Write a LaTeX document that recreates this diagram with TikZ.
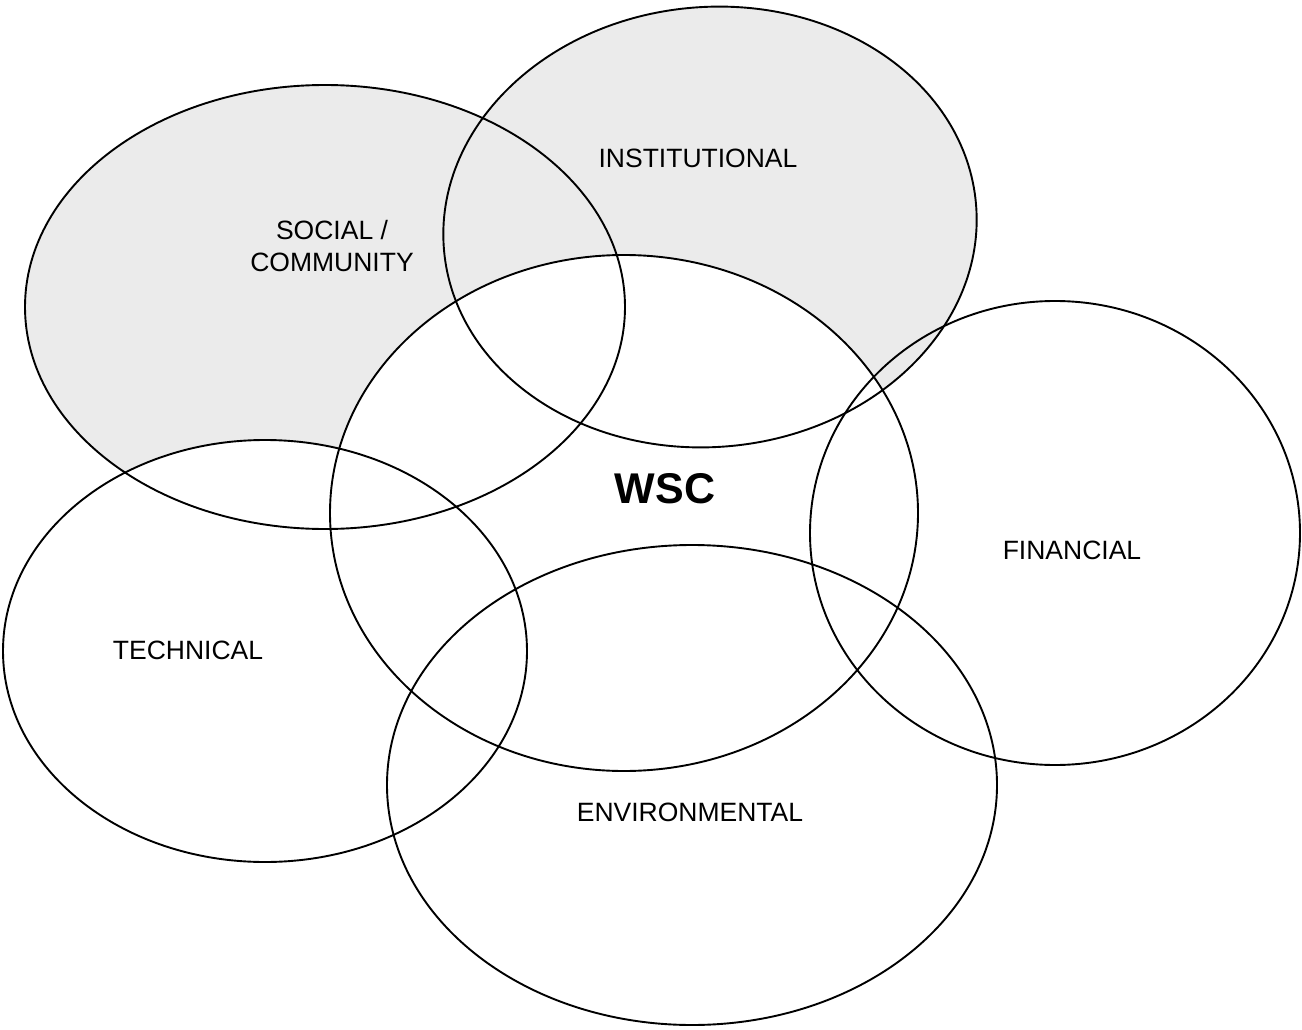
\documentclass[tikz,border=0pt]{standalone}
\usepackage{fontspec}
\setmainfont{Liberation Sans}
\begin{document}
\begin{tikzpicture}[x=1pt,y=-1pt,
  ring/.style={draw=black,line width=1.9pt},
  shade/.style={fill=black!8},
  lab/.style={font=\fontsize{26.5}{32}\selectfont,align=center,inner sep=0pt},
  big/.style={font=\fontsize{43}{47}\selectfont\bfseries,inner sep=0pt}]
\useasboundingbox (0,0) rectangle (1302,1030);
% shaded regions (stippled outside the central ellipse)
\fill[shade] (325,307) ellipse [x radius=300,y radius=222];
\fill[shade,rotate around={5:(710,227)}] (710,227) ellipse [x radius=267,y radius=220];
\fill[white] (624,513) ellipse [x radius=294,y radius=258];
\fill[white] (265,651) ellipse [x radius=262,y radius=211];
% outlines
\draw[ring] (325,307) ellipse [x radius=300,y radius=222];
\draw[ring,rotate around={5:(710,227)}] (710,227) ellipse [x radius=267,y radius=220];
\draw[ring] (624,513) ellipse [x radius=294,y radius=258];
\draw[ring] (1055,533) ellipse [x radius=245,y radius=232];
\draw[ring] (265,651) ellipse [x radius=262,y radius=211];
\draw[ring] (692,785) ellipse [x radius=305,y radius=240];
% labels
\node[lab] (inst) at (698,158) {INSTITUTIONAL};
\node[lab] (soc) at (332,246) {SOCIAL /\\COMMUNITY};
\node[big] (wsc) at (665,489) {WSC};
\node[lab] (fin) at (1072,550) {FINANCIAL};
\node[lab] (tech) at (188,650) {TECHNICAL};
\node[lab] (env) at (690,812) {ENVIRONMENTAL};
\end{tikzpicture}
\end{document}
